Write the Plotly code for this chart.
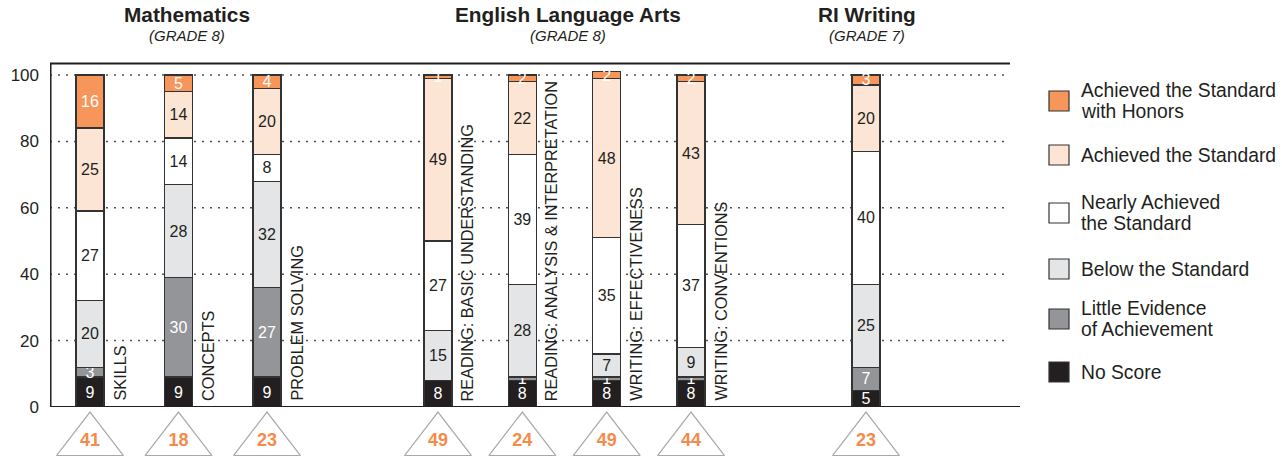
import plotly.graph_objects as go

# ---------------- data ----------------
level_names = [
    "No Score",
    "Little Evidence of Achievement",
    "Below the Standard",
    "Nearly Achieved the Standard",
    "Achieved the Standard",
    "Achieved the Standard with Honors",
]
legend_labels = [
    ["No Score"],
    ["Little Evidence", "of Achievement"],
    ["Below the Standard"],
    ["Nearly Achieved", "the Standard"],
    ["Achieved the Standard"],
    ["Achieved the Standard", "with Honors"],
]

math_tests = ["SKILLS", "CONCEPTS", "PROBLEM SOLVING"]
math_no_score = [9, 9, 9]
math_little = [3, 30, 27]
math_below = [20, 28, 32]
math_nearly = [27, 14, 8]
math_achieved = [25, 14, 20]
math_honors = [16, 5, 4]
math_counts = [41, 18, 23]

ela_tests = ["READING: BASIC UNDERSTANDING", "READING: ANALYSIS & INTERPRETATION",
             "WRITING: EFFECTIVENESS", "WRITING: CONVENTIONS"]
ela_no_score = [8, 8, 8, 8]
ela_little = [0, 1, 1, 1]
ela_below = [15, 28, 7, 9]
ela_nearly = [27, 39, 35, 37]
ela_achieved = [49, 22, 48, 43]
ela_honors = [1, 2, 2, 2]
ela_counts = [49, 24, 49, 44]

ri_tests = ["WRITING"]
ri_no_score = [5]
ri_little = [7]
ri_below = [25]
ri_nearly = [40]
ri_achieved = [20]
ri_honors = [3]
ri_counts = [23]

group_titles = ["Mathematics", "English Language Arts", "RI Writing"]
group_grades = ["(GRADE 8)", "(GRADE 8)", "(GRADE 7)"]
y_ticks = [0, 20, 40, 60, 80, 100]

# ---------------- styling / layout ----------------
fill_colors = ["#231F20", "#939598", "#E4E5E7", "#FFFFFF", "#FDE5D5", "#F7965A"]
text_colors = ["#FFFFFF", "#FFFFFF", "#231F20", "#231F20", "#231F20", "#FFFFFF"]
ink = "#231F20"
FONT = "Liberation Sans, Arial, sans-serif"

W, H = 1282, 467
L, R, T, B = 50, 1015, 60, 467  # plot area in pixels


def px_x(px):
    return (px - L) / (R - L)


def px_y(py):
    return (B - py) / (B - T)


groups = [
    dict(ax="x", tests=math_tests, title=group_titles[0], grade=group_grades[0],
         series=[math_no_score, math_little, math_below, math_nearly, math_achieved, math_honors],
         counts=math_counts, domain=[px_x(50), px_x(311.25)], range=[-0.452, 2.5],
         rotated=True, title_px=187),
    dict(ax="x2", tests=ela_tests, title=group_titles[1], grade=group_grades[1],
         series=[ela_no_score, ela_little, ela_below, ela_nearly, ela_achieved, ela_honors],
         counts=ela_counts, domain=[px_x(395.8), px_x(733.2)], range=[-0.5, 3.5],
         rotated=True, title_px=568),
    dict(ax="x3", tests=ri_tests, title=group_titles[2], grade=group_grades[2],
         series=[ri_no_score, ri_little, ri_below, ri_nearly, ri_achieved, ri_honors],
         counts=ri_counts, domain=[px_x(822), px_x(910)], range=[-0.5, 0.5],
         rotated=False, title_px=867),
]

y_main_bottom = px_y(407)
y_top_val = (407 - T) / 3.32   # 3.32 px per percentage point
frame_top_val = (407 - 63.5) / 3.32

fig = go.Figure()
annotations = []
shapes = []

for g in groups:
    span_px = (g["domain"][1] - g["domain"][0]) * (R - L)
    unit_px = span_px / (g["range"][1] - g["range"][0])
    bw = 28 / unit_px
    for i, vals in enumerate(g["series"]):
        fig.add_trace(go.Bar(
            x=g["tests"], y=vals, name=level_names[i], xaxis=g["ax"], yaxis="y",
            width=[bw] * len(vals),
            marker=dict(color=fill_colors[i], line=dict(color="#333333", width=1.3)),
            text=[str(v) if v > 0 else "" for v in vals],
            textposition="inside", insidetextanchor="middle", textangle=0,
            textfont=dict(size=16, color=text_colors[i], family=FONT),
            showlegend=False, cliponaxis=False,
        ))
    fig.add_trace(go.Scatter(
        x=g["tests"], y=[0] * len(g["tests"]), xaxis=g["ax"], yaxis="y2",
        mode="markers+text",
        marker=dict(symbol="triangle-up", size=58, color="white",
                    line=dict(color="#A7A9AC", width=1.2)),
        text=[str(c) for c in g["counts"]], textposition="middle center",
        textfont=dict(size=18, color="#F58A4B", family=FONT, weight="bold"),
        showlegend=False, cliponaxis=False, hoverinfo="skip",
    ))
    if g["rotated"]:
        for t in g["tests"]:
            annotations.append(dict(
                x=t, y=0, xref=g["ax"], yref="y", xshift=29, yshift=4,
                xanchor="center", yanchor="bottom", textangle=-90, showarrow=False,
                text=t, font=dict(size=16.3, color=ink, family=FONT)))
    annotations.append(dict(
        x=px_x(g["title_px"]), y=px_y(15), xref="paper", yref="paper",
        xanchor="center", yanchor="middle", showarrow=False, text="<b>" + g["title"] + "</b>",
        font=dict(size=20.8, color=ink, family=FONT)))
    annotations.append(dict(
        x=px_x(g["title_px"]), y=px_y(36), xref="paper", yref="paper",
        xanchor="center", yanchor="middle", showarrow=False, text="<i>" + g["grade"] + "</i>",
        font=dict(size=15, color=ink, family=FONT)))

# gridlines (dotted)
for v in y_ticks[1:]:
    shapes.append(dict(type="line", xref="paper", yref="y", x0=0, x1=px_x(1010), y0=v, y1=v,
                       line=dict(color="#555555", width=1.5, dash="2px,6px"), layer="below"))
# frame lines
shapes.append(dict(type="line", xref="paper", yref="y", x0=0, x1=px_x(1020),
                   y0=0, y1=0, line=dict(color=ink, width=2)))
shapes.append(dict(type="line", xref="paper", yref="y", x0=0, x1=px_x(1010),
                   y0=frame_top_val, y1=frame_top_val, line=dict(color=ink, width=2)))
shapes.append(dict(type="line", xref="paper", yref="y", x0=0.0008, x1=0.0008,
                   y0=0, y1=frame_top_val, line=dict(color=ink, width=1.5)))

# legend (top to bottom: honors ... no score)
legend_centers = [101, 155, 213, 269, 319, 372]
for k, idx in enumerate(range(5, -1, -1)):
    cy = legend_centers[k]
    shapes.append(dict(type="rect", xref="paper", yref="paper",
                       x0=px_x(1049), x1=px_x(1069), y0=px_y(cy + 10), y1=px_y(cy - 10),
                       fillcolor=fill_colors[idx], line=dict(color="#333333", width=1.2)))
    lines = legend_labels[idx]
    n = len(lines)
    for j, line_text in enumerate(lines):
        ly = cy + (j - (n - 1) / 2) * 21
        annotations.append(dict(x=px_x(1079), y=px_y(ly), xref="paper", yref="paper",
                                xanchor="left", yanchor="middle", align="left", showarrow=False,
                                text=line_text,
                                font=dict(size=19.3, color=ink, family=FONT)))

layout_axes = {}
for g in groups:
    key = "xaxis" if g["ax"] == "x" else "xaxis" + g["ax"][1:]
    layout_axes[key] = dict(domain=g["domain"], range=g["range"], type="category",
                            anchor="y", showgrid=False, showticklabels=False,
                            showline=False, zeroline=False, fixedrange=True)

fig.update_layout(
    width=W, height=H, autosize=False,
    margin=dict(l=L, r=W - R, t=T, b=H - B, pad=0, autoexpand=False),
    paper_bgcolor="white", plot_bgcolor="white",
    barmode="stack",
    uniformtext=dict(minsize=16, mode="show"),
    yaxis=dict(domain=[y_main_bottom, 1], range=[0, y_top_val], tickvals=y_ticks,
               showgrid=False, zeroline=False, showline=False,
               ticks="", ticklabelstandoff=10, anchor="x", automargin=False,
               tickfont=dict(size=17, color=ink, family=FONT), fixedrange=True),
    yaxis2=dict(domain=[0, y_main_bottom], range=[-0.433, 0.567], visible=False, anchor="x",
                fixedrange=True),
    annotations=annotations, shapes=shapes,
    font=dict(family=FONT, color=ink),
    **layout_axes,
)

fig.write_html("out.html", config={"displayModeBar": False},
               post_script="document.body.style.margin='0';document.body.style.overflow='hidden';")
